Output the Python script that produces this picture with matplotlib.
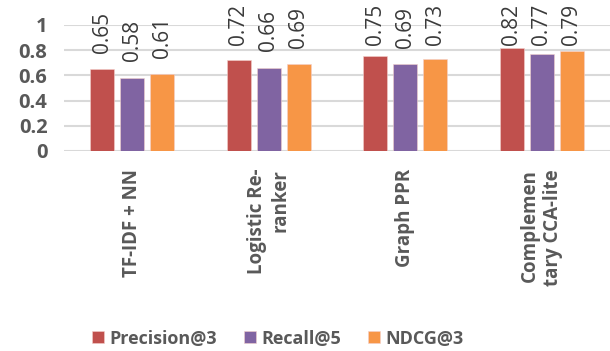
import matplotlib.pyplot as plt
import numpy as np

categorias = ["TF-IDF + NN", "Logistic Re-\nranker", "Graph PPR", "Complemen\ntary CCA-lite"]
series = ["Precision@3", "Recall@5", "NDCG@3"]
precision = [0.65, 0.72, 0.75, 0.82]
recall = [0.58, 0.66, 0.69, 0.77]
ndcg = [0.61, 0.69, 0.73, 0.79]
cores = ["#C0504D", "#8064A2", "#F79646"]

plt.rcParams['font.family'] = ['Open Sans', 'DejaVu Sans']

fig = plt.figure(figsize=(6.1, 3.51), dpi=100)
ax = fig.add_axes([0.105, 0.570, 0.895, 0.359])

x = np.arange(len(categorias))
largura = 0.176
passo = 0.22

for i, (nome, vals) in enumerate(zip(series, [precision, recall, ndcg])):
    pos = x + (i - 1) * passo
    ax.bar(pos, vals, largura, color=cores[i], label=nome, zorder=3,
           edgecolor='#f3d0cc', linewidth=0.4)
    for p, v in zip(pos, vals):
        # rótulo acima da barra, mas limitado perto do topo
        ax.text(p, min(v + 0.13, 0.84), f"{v:.2f}", rotation=90, ha='center',
                va='bottom', fontsize=15, color='#3a3a3a', clip_on=False)

ax.set_ylim(0, 1)
ax.set_xlim(-0.5, len(categorias) - 0.5)
ax.set_yticks([0, 0.2, 0.4, 0.6, 0.8, 1])
ax.set_yticklabels(["0", "0.2", "0.4", "0.6", "0.8", "1"])
ax.set_xticks(x)
ax.set_xticklabels(categorias, rotation=90, ha='center', va='top', multialignment='right')

ax.tick_params(axis='y', length=0, pad=12, labelsize=14.5, labelcolor='#595959')
ax.tick_params(axis='x', length=0, pad=13, labelsize=13.5, labelcolor='#595959')
for lbl in ax.get_yticklabels() + ax.get_xticklabels():
    lbl.set_fontweight('bold')

ax.grid(axis='y', color='#d9d9d9', linewidth=1.5, zorder=0)
for s in ax.spines.values():
    s.set_visible(False)

leg = fig.legend(loc='center', bbox_to_anchor=(0.455, 0.035), ncol=3, frameon=False,
                 handlelength=0.65, handleheight=0.65, handletextpad=0.3, columnspacing=1.5,
                 prop={'size': 13, 'weight': 'bold'})
for t in leg.get_texts():
    t.set_color('#595959')

fig.savefig("out.png", dpi=100)
